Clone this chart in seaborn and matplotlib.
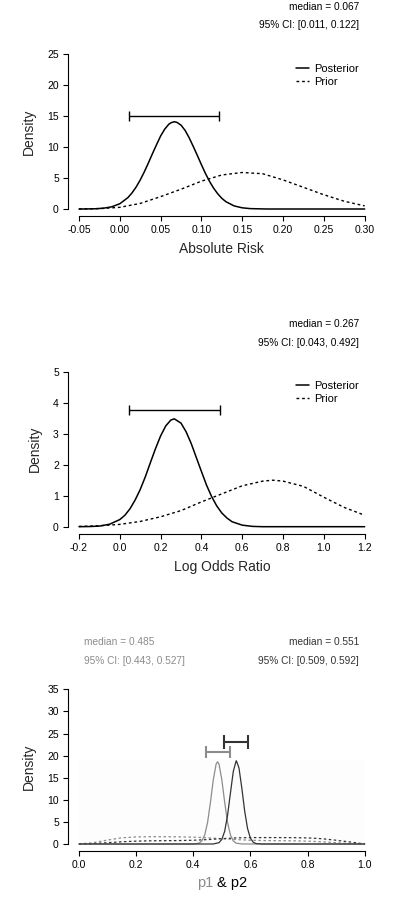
import matplotlib
matplotlib.use('Agg')
from matplotlib import pyplot as plt
import seaborn as sns


# --- panel 1: absolute risk ---
ar_post_x = [-0.05, -0.04, -0.03, -0.02, -0.01, 0.00, 0.01, 0.015, 0.02, 0.025, 0.03, 0.035,
             0.04, 0.045, 0.05, 0.055, 0.06, 0.063, 0.067, 0.07, 0.075, 0.08, 0.085, 0.09,
             0.095, 0.10, 0.105, 0.11, 0.115, 0.12, 0.125, 0.13, 0.14, 0.15, 0.16, 0.18, 0.30]
ar_post_y = [0.0, 0.01, 0.04, 0.13, 0.35, 0.85, 1.85, 2.61, 3.55, 4.69, 6.0, 7.44,
             8.95, 10.4, 11.8, 12.9, 13.7, 13.96, 14.1, 14.0, 13.55, 12.7, 11.5, 10.1,
             8.65, 7.15, 5.72, 4.44, 3.35, 2.45, 1.72, 1.18, 0.50, 0.19, 0.06, 0.0, 0.0]
ar_prior_x = [-0.05, -0.025, 0.0, 0.025, 0.05, 0.075, 0.10, 0.125, 0.15, 0.175, 0.20,
              0.225, 0.25, 0.275, 0.30]
ar_prior_y = [0.0, 0.06, 0.27, 0.9, 2.0, 3.2, 4.5, 5.5, 5.9, 5.7, 4.7, 3.5, 2.3, 1.25, 0.5]
ar_median = 0.067
ar_ci = [0.011, 0.122]
ar_bar_y = 15.1
ar_xticks = [-0.05, 0.0, 0.05, 0.10, 0.15, 0.20, 0.25, 0.30]
ar_yticks = [0, 5, 10, 15, 20, 25]

# --- panel 2: log odds ratio ---
lor_post_x = [-0.2, -0.15, -0.1, -0.05, 0.0, 0.025, 0.05, 0.075, 0.1, 0.125, 0.15, 0.175,
              0.2, 0.225, 0.25, 0.267, 0.3, 0.325, 0.35, 0.375, 0.4, 0.425, 0.45, 0.475,
              0.5, 0.525, 0.55, 0.6, 0.65, 0.7, 1.2]
lor_post_y = [0.0, 0.005, 0.02, 0.08, 0.23, 0.37, 0.58, 0.86, 1.20, 1.61, 2.07, 2.52,
              2.93, 3.25, 3.44, 3.48, 3.34, 3.06, 2.68, 2.23, 1.78, 1.34, 0.97, 0.67,
              0.44, 0.28, 0.16, 0.05, 0.01, 0.0, 0.0]
lor_prior_x = [-0.2, -0.1, 0.0, 0.1, 0.2, 0.3, 0.4, 0.5, 0.6, 0.7, 0.75, 0.8, 0.9, 1.0, 1.1, 1.2]
lor_prior_y = [0.01, 0.03, 0.075, 0.17, 0.32, 0.52, 0.8, 1.06, 1.32, 1.47, 1.5, 1.47,
               1.3, 0.95, 0.62, 0.37]
lor_median = 0.267
lor_ci = [0.043, 0.492]
lor_bar_y = 3.76
lor_xticks = [-0.2, 0.0, 0.2, 0.4, 0.6, 0.8, 1.0, 1.2]
lor_yticks = [0, 1, 2, 3, 4, 5]

# --- panel 3: p1 & p2 ---
p1_post_x = [0.0, 0.38, 0.40, 0.42, 0.43, 0.44, 0.45, 0.46, 0.47, 0.48, 0.485, 0.49,
             0.50, 0.51, 0.52, 0.53, 0.54, 0.55, 0.57, 0.59, 1.0]
p1_post_y = [0.0, 0.0, 0.01, 0.19, 0.69, 2.04, 4.87, 9.4, 14.5, 18.1, 18.6, 18.1,
             14.5, 9.4, 4.87, 2.04, 0.69, 0.19, 0.01, 0.0, 0.0]
p2_post_x = [0.0, 0.45, 0.47, 0.49, 0.50, 0.51, 0.52, 0.53, 0.54, 0.55, 0.551, 0.56,
             0.57, 0.58, 0.59, 0.60, 0.61, 0.62, 0.64, 1.0]
p2_post_y = [0.0, 0.0, 0.01, 0.30, 1.04, 2.9, 6.5, 11.5, 16.4, 18.8, 18.8, 17.2,
             12.6, 7.4, 3.5, 1.3, 0.39, 0.09, 0.0, 0.0]
p_prior_x = [0.0, 0.05, 0.1, 0.15, 0.2, 0.25, 0.3, 0.35, 0.4, 0.45, 0.5, 0.55, 0.6,
             0.65, 0.7, 0.75, 0.8, 0.85, 0.9, 0.95, 1.0]
p1_prior_y = [0.0, 0.3, 0.9, 1.4, 1.6, 1.65, 1.65, 1.62, 1.55, 1.4, 1.2, 1.0, 0.85,
              0.78, 0.75, 0.72, 0.65, 0.5, 0.3, 0.1, 0.0]
p2_prior_y = [0.0, 0.1, 0.3, 0.5, 0.65, 0.72, 0.75, 0.78, 0.85, 1.0, 1.2, 1.38, 1.45,
              1.45, 1.45, 1.43, 1.38, 1.2, 0.85, 0.45, 0.0]
p1_median = 0.485
p1_ci = [0.443, 0.527]
p1_bar_y = 20.9
p2_median = 0.551
p2_ci = [0.509, 0.592]
p2_bar_y = 23.0
p_xticks = [0.0, 0.2, 0.4, 0.6, 0.8, 1.0]
p_yticks = [0, 5, 10, 15, 20, 25, 30, 35]

GRAY = '#8c8c8c'
DARK = '#333333'
DOTS = (0, (2, 2))

sns.set_theme(style='ticks')
plt.rcParams['font.family'] = ['Liberation Sans', 'DejaVu Sans']
plt.rcParams['axes.linewidth'] = 0.8
plt.rcParams['xtick.major.width'] = 0.8
plt.rcParams['ytick.major.width'] = 0.8
plt.rcParams['xtick.major.size'] = 3.5
plt.rcParams['ytick.major.size'] = 3.5
plt.rcParams['xtick.labelsize'] = 7.5
plt.rcParams['ytick.labelsize'] = 7.5
plt.rcParams['xtick.major.pad'] = 3
plt.rcParams['ytick.major.pad'] = 3
plt.rcParams['text.color'] = 'black'
plt.rcParams['xtick.color'] = 'black'
plt.rcParams['ytick.color'] = 'black'
plt.rcParams['axes.edgecolor'] = 'black'

W, H = 398, 900
fig = plt.figure(figsize=(W / 100, H / 100), dpi=100)


def px_axes(left, right, top, bottom):
    return fig.add_axes([left / W, 1 - bottom / H, (right - left) / W, (bottom - top) / H])


def r_style(ax, xticks, yticks, fmt, out_y):
    ax.set_xlim(xticks[0], xticks[-1])
    ax.set_ylim(yticks[0], yticks[-1])
    ax.set_xticks(xticks)
    ax.set_xticklabels([fmt.format(v) for v in xticks])
    ax.set_yticks(yticks)
    ax.set_yticklabels([str(v) for v in yticks])
    for s in ['top', 'right']:
        ax.spines[s].set_visible(False)
    ax.spines['left'].set_position(('outward', 8))
    ax.spines['bottom'].set_position(('outward', out_y))
    ax.spines['left'].set_bounds(yticks[0], yticks[-1])
    ax.spines['bottom'].set_bounds(xticks[0], xticks[-1])
    ax.set_ylabel('Density', fontsize=10, labelpad=8)
    ax.set_facecolor('white')
    for ln in ax.lines:
        ln.set_clip_on(False)


def ci_bar(ax, med, ci, y, color, lw, cap):
    ax.errorbar(x=[med], y=[y], xerr=[[med - ci[0]], [ci[1] - med]], fmt='none',
                ecolor=color, elinewidth=lw, capsize=cap, capthick=lw)


def stats_text(x, y_med, y_ci, med, ci, color='black', ha='right'):
    fig.text(x / W, 1 - y_med / H, 'median = {:.3f}'.format(med), fontsize=7.3,
             color=color, ha=ha, va='center')
    fig.text(x / W, 1 - y_ci / H, '95% CI: [{:.3f}, {:.3f}]'.format(*ci), fontsize=7.3,
             color=color, ha=ha, va='center')


def two_curves(ax, post_x, post_y, prior_x, prior_y, legend_top):
    sns.lineplot(x=post_x, y=post_y, ax=ax, color='black', lw=1.1, label='Posterior')
    sns.lineplot(x=prior_x, y=prior_y, ax=ax, color='black', lw=1.0, linestyle=DOTS,
                 label='Prior')
    ax.legend(loc='upper left', bbox_to_anchor=(296 / W, 1 - legend_top / H),
              bbox_transform=fig.transFigure, frameon=False, fontsize=8,
              handlelength=1.17, handletextpad=0.5, labelspacing=0.25, borderpad=0,
              borderaxespad=0)


# panel 1
ax1 = px_axes(79, 364.7, 54.3, 209)
two_curves(ax1, ar_post_x, ar_post_y, ar_prior_x, ar_prior_y, 64)
ci_bar(ax1, ar_median, ar_ci, ar_bar_y, 'black', 1.0, 3.9)
r_style(ax1, ar_xticks, ar_yticks, '{:.2f}', 5)
ax1.set_xlabel('Absolute Risk', fontsize=10, labelpad=5)
stats_text(359, 7.3, 25, ar_median, ar_ci)

# panel 2
ax2 = px_axes(79, 364.7, 371.7, 526.7)
two_curves(ax2, lor_post_x, lor_post_y, lor_prior_x, lor_prior_y, 381)
ci_bar(ax2, lor_median, lor_ci, lor_bar_y, 'black', 1.0, 3.9)
r_style(ax2, lor_xticks, lor_yticks, '{:.1f}', 5)
ax2.set_xlabel('Log Odds Ratio', fontsize=10, labelpad=5)
stats_text(359, 324.3, 342.7, lor_median, lor_ci)

# panel 3
ax3 = px_axes(79, 364.7, 689.3, 844)
ax3.axvspan(0.0, 1.0, ymax=18.9 / 35, color='#fdfdfd', lw=0)
sns.lineplot(x=p_prior_x, y=p1_prior_y, ax=ax3, color=GRAY, lw=0.9, linestyle=DOTS)
sns.lineplot(x=p_prior_x, y=p2_prior_y, ax=ax3, color=DARK, lw=0.9, linestyle=DOTS)
sns.lineplot(x=p1_post_x, y=p1_post_y, ax=ax3, color=GRAY, lw=0.9)
sns.lineplot(x=p2_post_x, y=p2_post_y, ax=ax3, color=DARK, lw=0.9)
ci_bar(ax3, p1_median, p1_ci, p1_bar_y, GRAY, 1.5, 4.2)
ci_bar(ax3, p2_median, p2_ci, p2_bar_y, DARK, 1.5, 5.0)
r_style(ax3, p_xticks, p_yticks, '{:.1f}', 5)
fig.text(196.7 / W, 1 - 883 / H, 'p1', fontsize=10.5, color=GRAY, ha='left', va='center')
fig.text(247.3 / W, 1 - 883 / H, '& p2', fontsize=10.5, color='black', ha='right', va='center')
stats_text(84.3, 642.3, 660.7, p1_median, p1_ci, color=GRAY, ha='left')
stats_text(359, 642.3, 660.7, p2_median, p2_ci, color=DARK)

plt.savefig('out.png', dpi=100)
